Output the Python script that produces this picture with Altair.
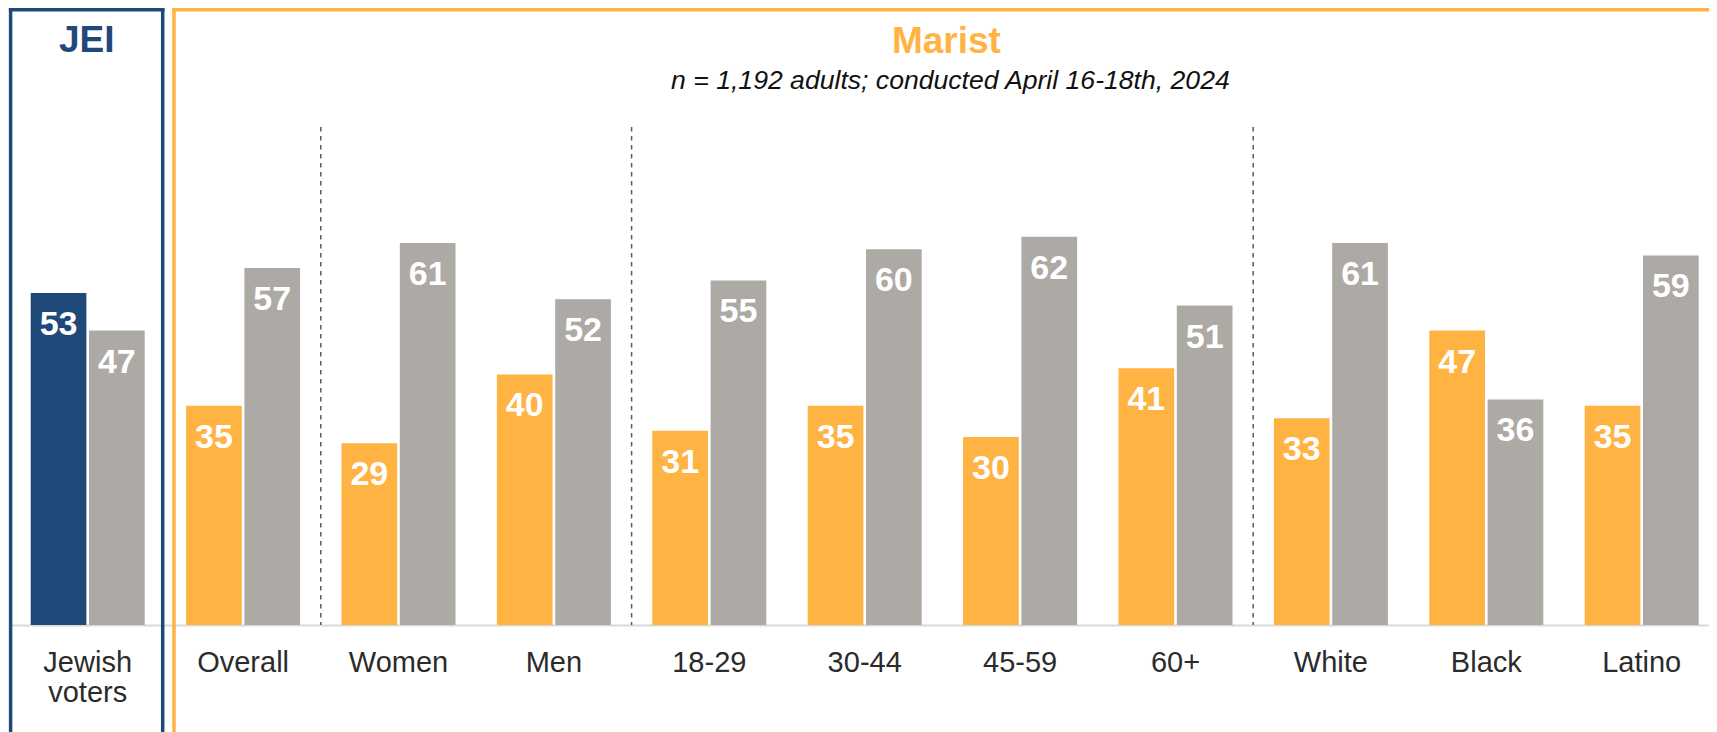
import altair as alt
import pandas as pd

# ---- data ----
categories = ["Jewish voters", "Overall", "Women", "Men", "18-29", "30-44",
              "45-59", "60+", "White", "Black", "Latino"]
first_values = [53, 35, 29, 40, 31, 35, 30, 41, 33, 47, 35]
second_values = [47, 57, 61, 52, 55, 60, 62, 51, 61, 36, 59]
separators_before = ["Women", "18-29", "White"]

jei_title = "JEI"
marist_title = "Marist"
marist_subtitle = "n = 1,192 adults; conducted April 16-18th, 2024"

BLUE = "#1F4979"
ORANGE = "#FFB343"
GRAY = "#ADA9A5"
FONT = "Liberation Sans"

rows = []
for i, c in enumerate(categories):
    rows.append({"cat": c, "series": "a", "value": first_values[i],
                 "key": "jei" if i == 0 else "marist"})
    rows.append({"cat": c, "series": "b", "value": second_values[i], "key": "other"})
bars_df = pd.DataFrame(rows)

STEP = 155.4
xscale = alt.Scale(domain=categories, range=[0, STEP * len(categories)],
                   paddingInner=0, paddingOuter=0)
yscale = alt.Scale(domain=[0, 98.5], nice=False, zero=True)
PLOT_H = 617

x_axis = alt.Axis(
    title=None, orient="bottom", labelAngle=0, ticks=False, tickSize=0,
    domainColor="#D9D9D9", domainWidth=2, labelFont=FONT, labelFontSize=29,
    labelColor="#2B2B2B", labelPadding=23, labelLimit=400, labelLineHeight=30,
    labelExpr="datum.value == 'Jewish voters' ? ['Jewish', 'voters'] : datum.label",
)

base = alt.Chart(bars_df)
offset_scale = alt.Scale(paddingInner=0.045, paddingOuter=0.355)

bars = base.mark_bar().encode(
    x=alt.X("cat:N", scale=xscale, axis=x_axis, sort=categories),
    xOffset=alt.XOffset("series:N", scale=offset_scale),
    y=alt.Y("value:Q", scale=yscale, axis=None),
    color=alt.Color("key:N", scale=alt.Scale(domain=["jei", "marist", "other"],
                                              range=[BLUE, ORANGE, GRAY]), legend=None),
)

labels = base.mark_text(dy=32, baseline="middle", align="center", color="white",
                        font=FONT, fontSize=34, fontWeight="bold").encode(
    x=alt.X("cat:N", scale=xscale, sort=categories),
    xOffset=alt.XOffset("series:N", scale=offset_scale),
    y=alt.Y("value:Q", scale=yscale),
    text=alt.Text("value:Q"),
)

sep_df = pd.DataFrame({"cat": separators_before})
seps = alt.Chart(sep_df).mark_rule(color="#595959", strokeWidth=1.5,
                                   strokeDash=[4.5, 4.5]).encode(
    x=alt.X("cat:N", scale=xscale, bandPosition=0),
    y=alt.value(119),
    y2=alt.value(PLOT_H),
)

def vedge(cat, color, off):
    return alt.Chart(pd.DataFrame({"cat": [cat]})).mark_rule(
        color=color, strokeWidth=3.5, xOffset=off).encode(
        x=alt.X("cat:N", scale=xscale, bandPosition=0),
        y=alt.value(0),
        y2=alt.value(900),
    )

blue_left = vedge(categories[0], BLUE, 0.6)
blue_right = vedge(categories[1], BLUE, -2.7)
orange_left = vedge(categories[1], ORANGE, 8.6)

blue_top = alt.Chart(pd.DataFrame({"k": [0]})).mark_rule(color=BLUE, strokeWidth=3.5).encode(
    x=alt.value(-1.1), x2=alt.value(154.5), y=alt.value(1.75))
orange_top = alt.Chart(pd.DataFrame({"k": [0]})).mark_rule(color=ORANGE, strokeWidth=3.5).encode(
    x=alt.value(162.3), x2=alt.value(1800), y=alt.value(1.75))

jei_text = alt.Chart(pd.DataFrame({"cat": [categories[0]], "t": [jei_title]})).mark_text(
    font=FONT, fontSize=37, fontWeight="bold", color=BLUE, baseline="middle", dx=-1).encode(
    x=alt.X("cat:N", scale=xscale), y=alt.value(33), text="t:N")

marist_text = alt.Chart(pd.DataFrame({"cat": ["45-59"], "t": [marist_title]})).mark_text(
    font=FONT, fontSize=37, fontWeight="bold", color=ORANGE, baseline="middle", dx=4).encode(
    x=alt.X("cat:N", scale=xscale, bandPosition=0), y=alt.value(34), text="t:N")

sub_text = alt.Chart(pd.DataFrame({"cat": ["45-59"], "t": [marist_subtitle]})).mark_text(
    font=FONT, fontSize=26.6, fontStyle="italic", color="#111111", baseline="middle", dx=8).encode(
    x=alt.X("cat:N", scale=xscale, bandPosition=0), y=alt.value(72.5), text="t:N")

chart = alt.layer(
    bars, labels, seps, blue_left, blue_right, orange_left, blue_top, orange_top,
    jei_text, marist_text, sub_text,
).properties(
    width=1699, height=PLOT_H,
    autosize=alt.AutoSizeParams(type="none"),
    padding={"left": 2, "top": 0, "right": 0, "bottom": 107},
    background="white",
).configure_view(stroke=None)

chart.save("out.html", embed_options={"renderer": "svg", "actions": False})
